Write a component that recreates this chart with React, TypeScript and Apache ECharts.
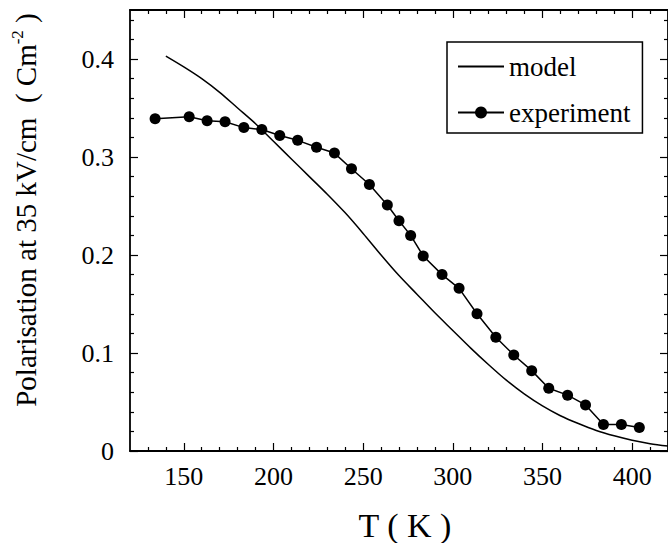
import React, { useEffect, useRef } from "react";
import * as echarts from "echarts";

// Model curve (T in K, polarisation in C m^-2)
const modelT = [140, 150, 160, 170, 180, 190, 200, 210, 220, 230, 240, 250, 260, 270, 280, 290, 300, 310, 320, 330, 340, 350, 360, 370, 380, 390, 400, 410, 420];
const modelP = [0.403, 0.392, 0.38, 0.366, 0.35, 0.334, 0.316, 0.298, 0.28, 0.262, 0.243, 0.222, 0.2, 0.179, 0.16, 0.141, 0.123, 0.105, 0.088, 0.072, 0.058, 0.046, 0.036, 0.028, 0.021, 0.0155, 0.011, 0.0075, 0.005];

// Experimental points
const expT = [134, 153, 163, 173, 183.5, 193.5, 203.5, 213.5, 224, 234, 243.5, 253.5, 263.5, 270, 276.5, 283.5, 294, 303.5, 313.5, 324, 334, 344, 353.5, 364, 374, 384, 394, 404];
const expP = [0.339, 0.341, 0.337, 0.336, 0.33, 0.328, 0.322, 0.317, 0.31, 0.304, 0.288, 0.272, 0.251, 0.235, 0.22, 0.199, 0.18, 0.166, 0.14, 0.116, 0.098, 0.082, 0.064, 0.057, 0.047, 0.027, 0.027, 0.024];

// Ticks
const xMajorTicks = [150, 200, 250, 300, 350, 400];
const xMinorTicks = [130, 140, 160, 170, 180, 190, 210, 220, 230, 240, 260, 270, 280, 290, 310, 320, 330, 340, 360, 370, 380, 390, 410];
const yMajorTicks = [0, 0.1, 0.2, 0.3, 0.4];
const yMinorTicks = [0.02, 0.04, 0.06, 0.08, 0.12, 0.14, 0.16, 0.18, 0.22, 0.24, 0.26, 0.28, 0.32, 0.34, 0.36, 0.38, 0.42, 0.44];

const seriesNames = ["model", "experiment"];
const xTitle = "T ( K )";
const yTitle = "Polarisation at 35 kV/cm  ( Cm";
const yTitleSup = "-2";

const FONT = "'Liberation Serif', 'Times New Roman', Times, serif";
const X_MIN = 120;
const X_MAX = 420;
const Y_MIN = 0;
const Y_MAX = 0.45;

export default function App() {
  const ref = useRef<HTMLDivElement>(null);

  useEffect(() => {
    if (!ref.current) return;
    const chart = echarts.init(ref.current, undefined, { renderer: "svg" });

    const lineStyle = { color: "#000", width: 1.8 };
    const makeX = (position: string, ticks: number[], len: number, showLine: boolean, showLabel: boolean) => ({
      type: "value",
      position,
      min: X_MIN,
      max: X_MAX,
      axisLine: { show: showLine, onZero: false, lineStyle },
      axisTick: { show: true, inside: true, length: len, customValues: ticks, lineStyle: { color: "#000", width: 1.2 } },
      axisLabel: showLabel
        ? { show: true, customValues: ticks, color: "#000", fontSize: 26, fontFamily: FONT, margin: 12 }
        : { show: false },
      splitLine: { show: false },
    });
    const makeY = (position: string, ticks: number[], len: number, showLine: boolean, showLabel: boolean) => ({
      type: "value",
      position,
      min: Y_MIN,
      max: Y_MAX,
      axisLine: { show: showLine, onZero: false, lineStyle },
      axisTick: { show: true, inside: true, length: len, customValues: ticks, lineStyle: { color: "#000", width: 1.2 } },
      axisLabel: showLabel
        ? {
            show: true,
            customValues: ticks,
            color: "#000",
            fontSize: 26,
            fontFamily: FONT,
            margin: 16,
            formatter: (v: number) => (v === 0 ? "0" : String(Math.round(v * 10) / 10)),
          }
        : { show: false },
      splitLine: { show: false },
    });

    chart.setOption({
      animation: false,
      backgroundColor: "#fff",
      grid: { left: 130, top: 10, width: 540, height: 441, containLabel: false },
      xAxis: [
        makeX("bottom", xMajorTicks, 8, true, true),
        makeX("bottom", xMinorTicks, 4, false, false),
        makeX("top", xMajorTicks, 8, true, false),
        makeX("top", xMinorTicks, 4, false, false),
      ],
      yAxis: [
        makeY("left", yMajorTicks, 8, true, true),
        makeY("left", yMinorTicks, 4, false, false),
        makeY("right", yMajorTicks, 8, true, false),
        makeY("right", yMinorTicks, 4, false, false),
      ],
      legend: {
        orient: "vertical",
        left: 447,
        top: 42,
        padding: [11, 12, 7, 10],
        itemGap: 19,
        itemWidth: 46,
        itemHeight: 15,
        borderColor: "#000",
        borderWidth: 1.5,
        backgroundColor: "#fff",
        textStyle: { color: "#000", fontSize: 27, fontFamily: FONT },
        data: seriesNames,
      },
      series: [
        {
          name: seriesNames[0],
          type: "line",
          xAxisIndex: 0,
          yAxisIndex: 0,
          data: modelT.map((t, i) => [t, modelP[i]]),
          showSymbol: false,
          symbol: "circle",
          smooth: 0.3,
          itemStyle: { color: "rgba(0,0,0,0)" },
          lineStyle: { color: "#000", width: 1.5 },
          z: 2,
        },
        {
          name: seriesNames[1],
          type: "line",
          xAxisIndex: 0,
          yAxisIndex: 0,
          data: expT.map((t, i) => [t, expP[i]]),
          symbol: "circle",
          symbolSize: 11,
          itemStyle: { color: "#000" },
          lineStyle: { color: "#000", width: 1.5 },
          z: 3,
        },
      ],
      graphic: [
        {
          type: "text",
          x: 26,
          y: 210,
          rotation: Math.PI / 2,
          style: {
            text: `{a|${yTitle}}{s|${yTitleSup}}{a| )}`,
            align: "center",
            verticalAlign: "middle",
            rich: {
              a: { fontSize: 29, fontFamily: FONT, fill: "#000", color: "#000", lineHeight: 35 },
              s: { fontSize: 17, fontFamily: FONT, fill: "#000", color: "#000", lineHeight: 20, verticalAlign: "top" },
            },
          },
        },
        {
          type: "text",
          x: 405,
          y: 525,
          style: {
            text: xTitle,
            align: "center",
            verticalAlign: "middle",
            fontSize: 34,
            fontFamily: FONT,
            fill: "#000",
          },
        },
      ],
    });

    return () => chart.dispose();
  }, []);

  return (
    <div
      ref={ref}
      style={{ position: "fixed", left: 0, top: 0, width: 668, height: 543, background: "#fff" }}
    />
  );
}
